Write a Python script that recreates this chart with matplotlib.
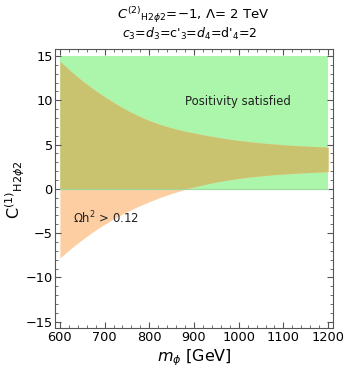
import numpy as np
import matplotlib
matplotlib.use('Agg')
import matplotlib.pyplot as plt
from matplotlib.ticker import MultipleLocator

# mass grid (GeV) and boundaries
m_phi = [600, 625, 650, 675, 700, 725, 750, 775, 800, 825, 850, 875, 900,
         925, 950, 975, 1000, 1025, 1050, 1075, 1100, 1125, 1150, 1175, 1200]
relic_upper = [14.4, 13.25, 12.2, 11.25, 10.4, 9.6, 8.88, 8.25, 7.7, 7.25,
               6.88, 6.56, 6.3, 6.05, 5.83, 5.63, 5.46, 5.31, 5.18, 5.07,
               4.97, 4.89, 4.82, 4.76, 4.7]
relic_lower = [-7.8, -6.72, -5.73, -4.82, -4.0, -3.26, -2.59, -1.99, -1.45,
               -0.96, -0.53, -0.14, 0.21, 0.51, 0.77, 0.99, 1.18, 1.34, 1.47,
               1.58, 1.67, 1.75, 1.82, 1.88, 1.93]
pos_low, pos_high = 0, 15

green = '#abf6ab'
orange = '#fdcea2'
overlap = '#c9c36f'

fig = plt.figure(figsize=(3.6, 3.76), dpi=100)
ax = fig.add_axes([0.154, 0.128, 0.771, 0.742])

m = np.array(m_phi)
lo = np.array(relic_lower)
hi = np.array(relic_upper)

# positivity region
ax.fill_between(m, pos_low, pos_high, color=green, lw=0)
# relic region
ax.fill_between(m, lo, hi, color=orange, lw=0)
# overlap
ax.fill_between(m, np.maximum(lo, pos_low), np.minimum(hi, pos_high),
                where=np.maximum(lo, pos_low) < np.minimum(hi, pos_high),
                color=overlap, lw=0)
ax.plot(m, np.full_like(m, pos_low, dtype=float), color='#9ed89e', lw=0.8)

ax.text(998, 9.9, 'Positivity satisfied', fontsize=8.4, ha='center', va='center',
        color='#222222')
ax.text(629, -3.3, r'$\Omega$h$^2$ > 0.12', fontsize=8.4, ha='left', va='center',
        color='#222222')

ax.set_xlim(590, 1211)
ax.set_ylim(-15.7, 15.8)
ax.xaxis.set_major_locator(MultipleLocator(100))
ax.xaxis.set_minor_locator(MultipleLocator(20))
ax.yaxis.set_major_locator(MultipleLocator(5))
ax.yaxis.set_minor_locator(MultipleLocator(1))
ax.tick_params(which='both', direction='in', top=True, right=True,
               color='#555555', labelsize=9.3, pad=2)
ax.tick_params(which='major', length=4, width=0.8)
ax.tick_params(which='minor', length=2, width=0.6)
ax.set_yticks([-15, -10, -5, 0, 5, 10, 15])
ax.set_yticklabels(['\u221215', '\u221210', '\u22125', '0', '5', '10', '15'])
for s in ax.spines.values():
    s.set_color('#555555')
    s.set_linewidth(0.8)

ax.set_xlabel(r'$m_\phi$ [GeV]', fontsize=11.5, labelpad=3)
# y label placed by hand so it stays inside the figure
fig.text(0.044, 0.495, r'C$^{(1)}{}_{\mathrm{H2}\phi2}$', fontsize=11.5,
         rotation=90, ha='center', va='center')

fig.text(0.536, 0.960, r'$C^{(2)}{}_{\mathrm{H2}\phi2}$=' + '\u22121, ' + r'$\Lambda$= 2 TeV',
         ha='center', va='center', fontsize=9.5)
fig.text(0.528, 0.909, r"$c_3$=$d_3$=c'$_3$=$d_4$=d'$_4$=2",
         ha='center', va='center', fontsize=9.0)

fig.savefig('out.png', dpi=100)
